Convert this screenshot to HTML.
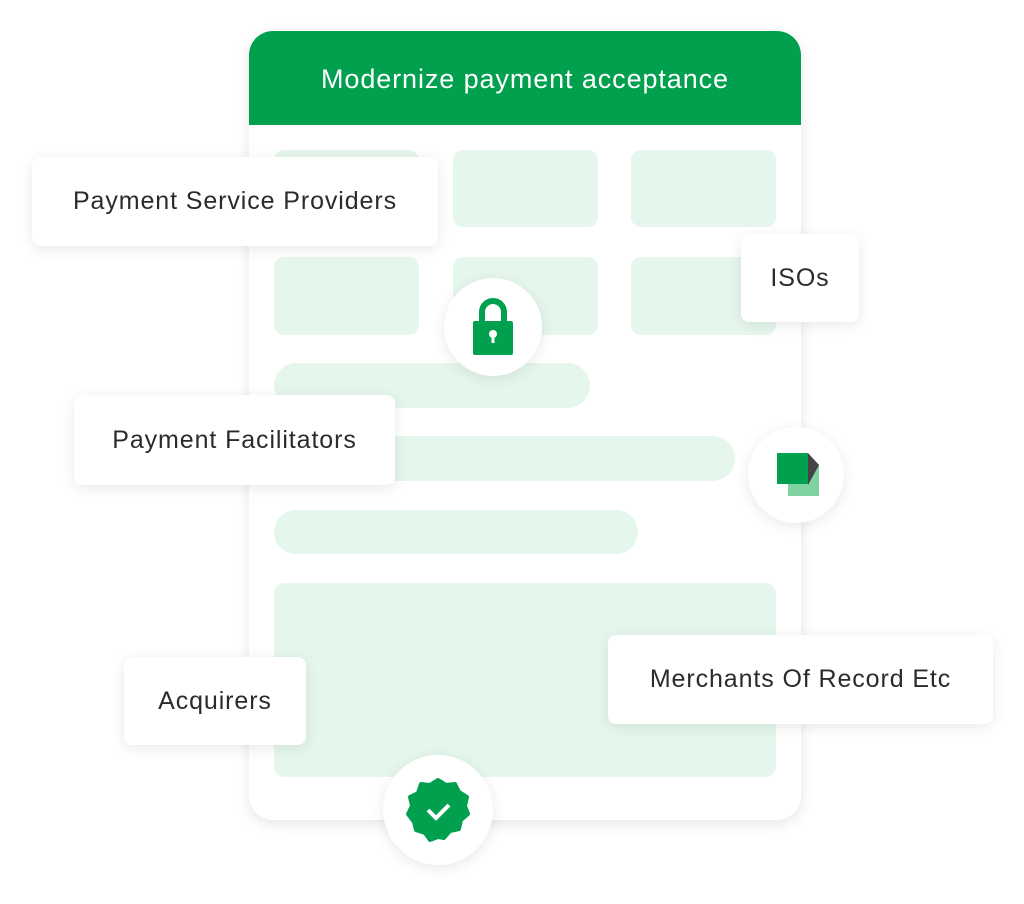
<!DOCTYPE html>
<html><head><style>
body{margin:0;width:1024px;height:904px;background:#fff;position:relative;overflow:hidden;font-family:"Liberation Sans",sans-serif}
.a{position:absolute}
.card{left:249px;top:31px;width:552px;height:789px;border-radius:24px;background:#fff;box-shadow:0 4px 14px rgba(0,0,0,.10);overflow:hidden}
.hd{left:0;top:0;width:552px;height:94px;background:#00a04f;color:#fff;font-size:27px;text-align:center;line-height:96px;letter-spacing:0.9px}
.b{background:#e5f7ec;border-radius:10px}
.p{background:#e5f7ec;border-radius:23px}
.lb{background:#fff;border-radius:8px;box-shadow:0 3px 14px rgba(0,0,0,.09);color:#2b2b2b;font-size:25px;display:flex;align-items:center;justify-content:center;letter-spacing:0.9px;white-space:nowrap}
.c{background:#fff;border-radius:50%;box-shadow:0 3px 14px rgba(0,0,0,.09)}
</style></head><body>
<div class="a card">
<div class="a hd">Modernize payment acceptance</div>
<div class="a b" style="left:25px;top:119px;width:145px;height:77px"></div>
<div class="a b" style="left:204px;top:119px;width:145px;height:77px"></div>
<div class="a b" style="left:382px;top:119px;width:145px;height:77px"></div>
<div class="a b" style="left:25px;top:226px;width:145px;height:78px"></div>
<div class="a b" style="left:204px;top:226px;width:145px;height:78px"></div>
<div class="a b" style="left:382px;top:226px;width:145px;height:78px"></div>
<div class="a p" style="left:25px;top:332px;width:316px;height:45px"></div>
<div class="a p" style="left:25px;top:405px;width:461px;height:45px"></div>
<div class="a p" style="left:25px;top:479px;width:364px;height:44px"></div>
<div class="a b" style="left:25px;top:552px;width:502px;height:194px"></div>
</div>
<div class="a lb" style="left:32px;top:157px;width:406px;height:89px">Payment Service Providers</div>
<div class="a lb" style="left:741px;top:234px;width:118px;height:88px">ISOs</div>
<div class="a lb" style="left:74px;top:395px;width:321px;height:90px">Payment Facilitators</div>
<div class="a lb" style="left:124px;top:657px;width:182px;height:88px">Acquirers</div>
<div class="a lb" style="left:608px;top:635px;width:385px;height:89px">Merchants Of Record Etc</div>
<div class="a c" style="left:444px;top:278px;width:98px;height:98px">
<svg width="98" height="98"><path d="M38 45v-11a11 11 0 0 1 22 0v11" fill="none" stroke="#00a04f" stroke-width="6"/><rect x="29" y="43" width="40" height="34" rx="2" fill="#00a04f"/><circle cx="49" cy="56" r="4" fill="#fff"/><rect x="47.5" y="57" width="3" height="8" fill="#fff"/></svg></div>
<div class="a c" style="left:748px;top:427px;width:96px;height:96px">
<svg width="96" height="96"><rect x="40" y="38" width="31" height="31" fill="#7fd3a3"/><polygon points="60,26 71,38 71,38 60,58" fill="#444"/><rect x="29" y="26" width="31" height="31" fill="#00a04f"/></svg></div>
<div class="a c" style="left:383px;top:755px;width:110px;height:110px">
<svg width="110" height="110"><polygon points="55,25 63,30 72,29 76,37 84,42 82,51 85,59 78,65 76,74 67,76 61,83 55,82 47,85 42,78 33,75 31,67 25,59 29,51 27,42 35,38 38,29 47,30" fill="#00a04f" stroke="#00a04f" stroke-width="4" stroke-linejoin="round"/><path d="M45 55l8 8 13-13" fill="none" stroke="#fff" stroke-width="4"/></svg></div>
</body></html>
